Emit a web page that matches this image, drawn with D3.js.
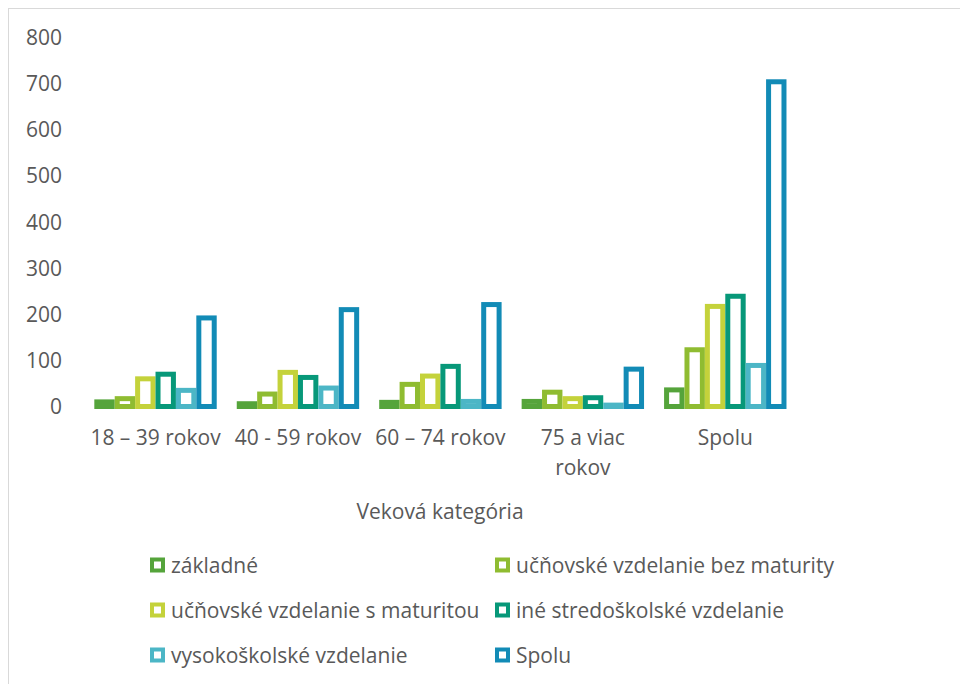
<!DOCTYPE html>
<html>
<head>
<meta charset="utf-8">
<script src="https://cdn.jsdelivr.net/npm/d3@7"></script>
<style>
    body { margin: 0; background: #fff; }
    text { font-family: "Open Sans", sans-serif; fill: #595959; }
</style>
</head>
<body>
<div id="chart"></div>
<script>
'use strict';

var categories = ["18 – 39 rokov", "40 - 59 rokov", "60 – 74 rokov", "75 a viac rokov", "Spolu"];
var seriesNames = [
    "základné",
    "učňovské vzdelanie bez maturity",
    "učňovské vzdelanie s maturitou",
    "iné stredoškolské vzdelanie",
    "vysokoškolské vzdelanie",
    "Spolu"
];
var zakladne = [10, 6, 9, 11, 36];
var bezMaturity = [17, 27, 48, 31, 123];
var sMaturitou = [60, 74, 66, 17, 217];
var ineStredoskolske = [70, 63, 87, 19, 239];
var vysokoskolske = [35, 40, 11, 3, 89];
var spolu = [192, 210, 221, 81, 704];
var yTicks = [0, 100, 200, 300, 400, 500, 600, 700, 800];
var colors = ["#55a43b", "#8fbc31", "#c4d23b", "#079879", "#4cb6c6", "#128bb6"];
var axisTitle = "Veková kategória";

var seriesValues = [zakladne, bezMaturity, sMaturitou, ineStredoskolske, vysokoskolske, spolu];

var width = 960;
var height = 684;
var strokeW = 5;

var svg = d3.select("#chart")
    .append("svg")
    .attr("width", width)
    .attr("height", height);

// frame of the chart area (right and bottom edge fall outside the window)
svg.append("rect")
    .attr("x", 8.5)
    .attr("y", 8.5)
    .attr("width", 1000)
    .attr("height", 1000)
    .style("fill", "none")
    .style("stroke", "#d9d9d9")
    .style("stroke-width", 1);

var x0 = d3.scaleBand()
    .domain(categories)
    .range([84.3, 796.5])
    .paddingInner(0)
    .paddingOuter(0);

var groupWidth = 122.4;
var x1 = d3.scaleBand()
    .domain(d3.range(seriesNames.length))
    .range([0, groupWidth]);

var y = d3.scaleLinear()
    .domain([0, 800])
    .range([406.5, 37.5]);

// y tick labels
svg.selectAll(".ytick")
    .data(yTicks)
    .enter()
    .append("text")
    .attr("class", "ytick")
    .attr("x", 62)
    .attr("y", function (d) { return y(d); })
    .attr("dy", "0.36em")
    .style("text-anchor", "end")
    .style("font-size", "21px")
    .text(function (d) { return d; });

// bars
var groups = svg.selectAll(".group")
    .data(categories)
    .enter()
    .append("g")
    .attr("class", "group")
    .attr("transform", function (d) {
        return "translate(" + (x0(d) + (x0.bandwidth() - groupWidth) / 2) + ",0)";
    });

groups.selectAll("rect")
    .data(function (d, i) {
        return seriesValues.map(function (vals, s) {
            return {s: s, v: vals[i]};
        });
    })
    .enter()
    .append("rect")
    .attr("x", function (d) { return x1(d.s) + strokeW / 2; })
    .attr("width", x1.bandwidth() - strokeW)
    .attr("y", function (d) { return y(d.v); })
    .attr("height", function (d) { return y(0) - y(d.v); })
    .style("fill", "#fff")
    .style("stroke", function (d) { return colors[d.s]; })
    .style("stroke-width", strokeW);

// category labels, wrapped when wider than the band
var catLabels = svg.selectAll(".xlabel")
    .data(categories)
    .enter()
    .append("text")
    .attr("class", "xlabel")
    .attr("x", function (d) { return x0(d) + x0.bandwidth() / 2; })
    .attr("y", 445)
    .style("text-anchor", "middle")
    .style("font-size", "21px");

catLabels.each(function (d) {
    var t = d3.select(this);
    var cx = x0(d) + x0.bandwidth() / 2;
    var words = d.split(" ");
    var line = [];
    var tspan = t.append("tspan").attr("x", cx).attr("dy", 0);
    words.forEach(function (w) {
        line.push(w);
        tspan.text(line.join(" "));
        if (tspan.node().getComputedTextLength() > x0.bandwidth() - 4 && line.length > 1) {
            line.pop();
            tspan.text(line.join(" "));
            line = [w];
            tspan = t.append("tspan").attr("x", cx).attr("dy", 30).text(w);
        }
    });
});

// axis title
svg.append("text")
    .attr("x", 440)
    .attr("y", 519)
    .style("text-anchor", "middle")
    .style("font-size", "21px")
    .text(axisTitle);

// legend
var legendCols = [150, 495];
var legendRows = [565, 610, 655];

var legend = svg.selectAll(".legend")
    .data(seriesNames)
    .enter()
    .append("g")
    .attr("class", "legend")
    .attr("transform", function (d, i) {
        return "translate(" + legendCols[i % 2] + "," + legendRows[Math.floor(i / 2)] + ")";
    });

legend.append("rect")
    .attr("x", 2)
    .attr("y", -5.5)
    .attr("width", 11)
    .attr("height", 11)
    .style("fill", "#fff")
    .style("stroke", function (d, i) { return colors[i]; })
    .style("stroke-width", 4);

legend.append("text")
    .attr("x", 21)
    .attr("y", 0)
    .attr("dy", "0.36em")
    .style("font-size", "21px")
    .text(function (d) { return d; });
</script>
</body>
</html>
